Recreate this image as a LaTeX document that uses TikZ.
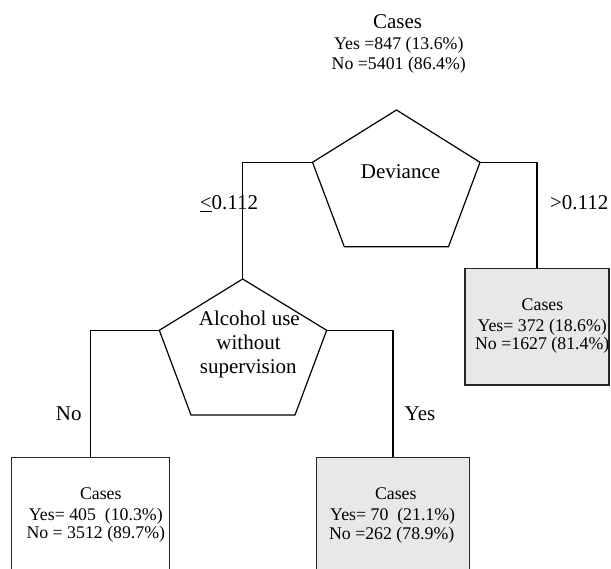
\documentclass[tikz,border=0pt]{standalone}
\usepackage{fontspec}
\setmainfont{Liberation Serif}
\newfontfamily\tnr{Liberation Serif}
\begin{document}
\begin{tikzpicture}[x=1pt,y=-1pt,
  edge/.style={draw=black,line width=1.2pt},
  pent/.style={draw=black,line width=1.2pt,line join=miter},
  leaf/.style={draw=black!85,line width=1.3pt,rectangle,inner sep=0pt,anchor=north},
  leafgray/.style={leaf,fill=black!9},
  big/.style={font=\tnr\fontsize{21}{24}\selectfont,inner sep=0pt,anchor=base},
  num/.style={font=\tnr\fontsize{17.8}{20}\selectfont,inner sep=0pt,anchor=base},
  lbl/.style={font=\tnr\fontsize{21}{24}\selectfont,inner sep=0pt,anchor=base}]
\useasboundingbox (0,0) rectangle (611,569);
\clip (0,0) rectangle (611,569);
% root text
\node[big] (rc) at (397.5,28.3) {Cases};
\node[num] (ry) at (398.8,50) {Yes =847 (13.6\%)};
\node[num] (rn) at (398.8,70) {No =5401 (86.4\%)};
% Deviance pentagon
\coordinate (dT) at (396.5,110);
\coordinate (dL) at (312.5,162.3);
\coordinate (dR) at (480,162.3);
\coordinate (dBL) at (344.3,246.7);
\coordinate (dBR) at (448.5,246.7);
\draw[pent] (dT) -- (dR) -- (dBR) -- (dBL) -- (dL) -- cycle;
\node[big] (dev) at (400.5,179) {Deviance};
% Alcohol pentagon
\coordinate (aT) at (242.7,279);
\coordinate (aL) at (159.3,330.3);
\coordinate (aR) at (326.7,330.3);
\coordinate (aBL) at (191,415);
\coordinate (aBR) at (295,415);
\draw[pent] (aT) -- (aR) -- (aBR) -- (aBL) -- (aL) -- cycle;
\node[big] (al1) at (249.3,326) {Alcohol use};
\node[big] (al2) at (248.5,349.3) {without};
\node[big] (al3) at (248.3,373.3) {supervision};
% leaf boxes
\node[leafgray,minimum width=144pt,minimum height=116.6pt] (rb) at (537,267.7) {};
\node[leaf,minimum width=157.6pt,minimum height=130pt] (lb) at (90.5,456.7) {};
\node[leafgray,minimum width=152.6pt,minimum height=130pt] (mb) at (393,456.7) {};
% leaf texts
\node[num] (rbc) at (542.5,311) {Cases};
\node[num] (rby) at (542.2,331.7) {Yes= 372 (18.6\%)};
\node[num] (rbn) at (542.2,349.8) {No =1627 (81.4\%)};
\node[num] (lbc) at (100.8,500) {Cases};
\node[num] (lby) at (95.8,520) {Yes= 405\ \ (10.3\%)};
\node[num] (lbn) at (95.8,538.5) {No = 3512 (89.7\%)};
\node[num] (mbc) at (395.8,500) {Cases};
\node[num] (mby) at (392.7,520) {Yes= 70\ \ (21.1\%)};
\node[num] (mbn) at (391.7,539.5) {No =262 (78.9\%)};
% connectors
\draw[edge] (dL) -| (aT);
\draw[edge] (dR) -| (rb.north);
\draw[edge] (aL) -| (lb.north);
\draw[edge] (aR) -| (mb.north);
% edge labels
\node[lbl] (le1) at (229,210) {\underline{<}0.112};
\node[lbl] (le2) at (579.2,209.3) {>0.112};
\node[lbl] (le3) at (68.8,421) {No};
\node[lbl] (le4) at (420,421) {Yes};
\end{tikzpicture}
\end{document}
